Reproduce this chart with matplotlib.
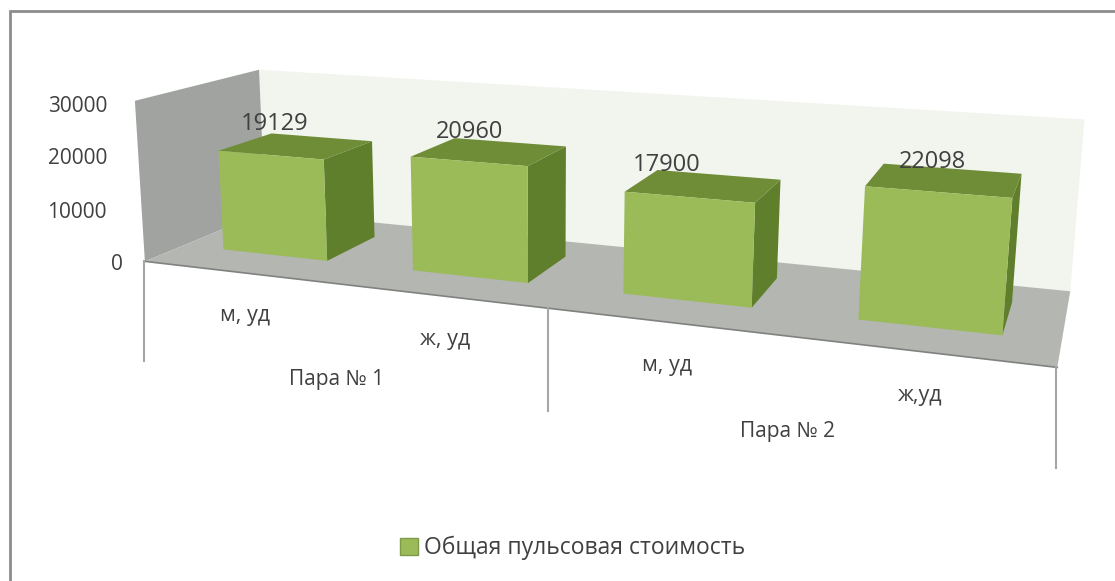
"""3D-looking column chart drawn by hand through a fitted perspective projection."""

import matplotlib

matplotlib.use("Agg")
import matplotlib.pyplot as plt
import numpy as np
from matplotlib.patches import Polygon, Patch

plt.rcParams["font.family"] = ["Open Sans", "DejaVu Sans"]

values = [19129, 20960, 17900, 22098]
cat_labels = ["м, уд", "ж, уд", "м, уд", "ж,уд"]
group_labels = ["Пара № 1", "Пара № 2"]
y_ticks = [0, 10000, 20000, 30000]
series_name = "Общая пульсовая стоимость"

W, H = 1115, 581
Z_MAX = 30000

# box corners on screen, used to fit the camera: (cat, depth, value) -> pixels
CALIB = [
    ((0, 0, 0), (148, 262)),
    ((2, 0, 0), (549, 307)),
    ((4, 0, 0), (1057, 369)),
    ((4, 1, 0), (1071, 290)),
    ((0, 1, 0), (262, 212)),
    ((0, 0, Z_MAX), (132, 100)),
    ((0, 1, Z_MAX), (262, 70)),
    ((4, 1, Z_MAX), (1084, 120)),
]


def fit_camera(calib):
    rows = []
    for (x, d, z), (u, v) in calib:
        p = [x, d, z / Z_MAX, 1]
        rows.append(p + [0, 0, 0, 0] + [-u * c for c in p])
        rows.append([0, 0, 0, 0] + p + [-v * c for c in p])
    return np.linalg.svd(np.array(rows, dtype=float))[2][-1].reshape(3, 4)


CAM = fit_camera(CALIB)


def project(x, d, z):
    u, v, w = CAM @ np.array([x, d, z / Z_MAX, 1.0])
    return u / w, v / w


def face(ax, corners, color, z):
    ax.add_patch(Polygon([project(*c) for c in corners], closed=True, fc=color, ec="none", zorder=z))


fig = plt.figure(figsize=(W / 100, H / 100), dpi=100)
ax = fig.add_axes([0, 0, 1, 1])
ax.set_xlim(0, W)
ax.set_ylim(H, 0)
ax.axis("off")

# the frame only survives on the top and left, the crop cut the rest away
ax.plot([W, 10, 10], [11, 11, H], color="#8c8c8c", lw=2, solid_joinstyle="miter", zorder=0)

# walls and floor
face(ax, [(0, 1, 0), (4, 1, 0), (4, 1, Z_MAX), (0, 1, Z_MAX)], "#f1f5ee", 1)
face(ax, [(0, 0, 0), (0, 1, 0), (0, 1, Z_MAX), (0, 0, Z_MAX)], "#a0a3a0", 2)
face(ax, [(0, 0, 0), (4, 0, 0), (4, 1, 0), (0, 1, 0)], "#b3b6b1", 3)

# front edge of floor and the category separators
edge = [project(0, 0, 0), project(2, 0, 0), project(4, 0, 0)]
ax.plot(*zip(edge[0], edge[2]), color="#7f827f", lw=1.2, zorder=4)
for (u, v), length in zip(edge, [100, 103, 101]):
    ax.plot([u - 1, u - 1], [v, v + length], color="#a6a6a6", lw=1.5, zorder=4)

# columns
GAP = 0.22
D0, D1 = 0.30, 0.75
for i, val in enumerate(values):
    x0, x1 = i + GAP, i + 1 - GAP
    z = 5 + i
    face(ax, [(x1, D0, 0), (x1, D1, 0), (x1, D1, val), (x1, D0, val)], "#607f2c", z)
    face(ax, [(x0, D0, val), (x1, D0, val), (x1, D1, val), (x0, D1, val)], "#6f8d36", z)
    face(ax, [(x0, D0, 0), (x1, D0, 0), (x1, D0, val), (x0, D0, val)], "#9bbb59", z)

# value labels sit above the columns
label_xy = [(275, 124), (470, 132), (667, 165), (933, 162)]
for val, (u, v) in zip(values, label_xy):
    ax.text(u, v, str(val), ha="center", va="center", fontsize=17, color="#404040", zorder=20)

# axis texts
tick_xy = [(123, 264), (107, 212), (107, 159), (107, 107)]
for val, (u, v) in zip(y_ticks, tick_xy):
    ax.text(u, v, str(val), ha="right", va="center", fontsize=15, color="#404040")

cat_xy = [(245, 316), (445, 339), (667, 365), (920, 395)]
for lab, (u, v) in zip(cat_labels, cat_xy):
    ax.text(u, v, lab, ha="center", va="center", fontsize=15.5, color="#404040")
group_xy = [(337, 380), (787, 432)]
for lab, (u, v) in zip(group_labels, group_xy):
    ax.text(u, v, lab, ha="center", va="center", fontsize=15, color="#404040")

ax.legend(
    handles=[Patch(fc="#9bbb59", ec="#7f9a48", label=series_name)],
    loc="center",
    bbox_to_anchor=(573 / W, 1 - 548 / H),
    frameon=False,
    fontsize=16.5,
    handlelength=0.75,
    handleheight=0.75,
    handletextpad=0.3,
    labelcolor="#404040",
)

fig.savefig("out.png", dpi=100)
